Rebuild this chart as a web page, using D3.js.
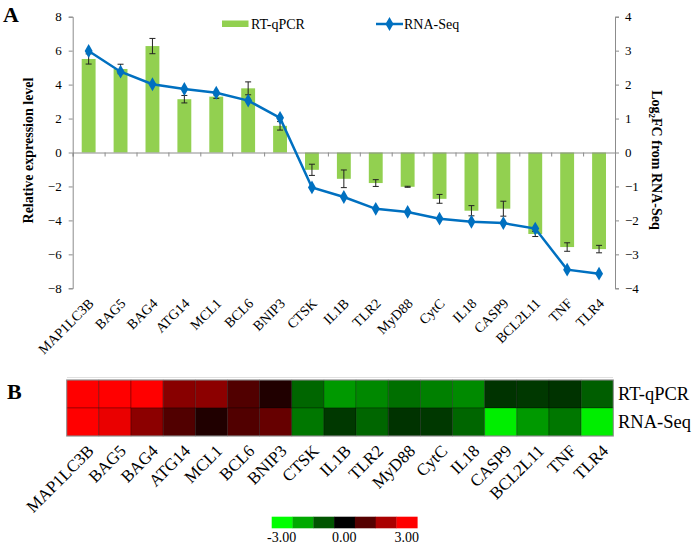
<!DOCTYPE html>
<html><head><meta charset="utf-8">
<script src="https://cdn.jsdelivr.net/npm/d3@7"></script>
<style>body{margin:0;background:#fff}svg{display:block;font-family:"Liberation Serif","Times New Roman",serif}</style>
</head><body>
<svg id="c" width="700" height="547"></svg>
<script>
const genes = ["MAP1LC3B","BAG5","BAG4","ATG14","MCL1","BCL6","BNIP3","CTSK","IL1B","TLR2","MyD88","CytC","IL18","CASP9","BCL2L11","TNF","TLR4"];
const qpcr = [5.51,4.92,6.27,3.14,3.29,3.78,1.57,-1.02,-1.55,-1.80,-2.02,-2.73,-3.43,-3.31,-4.80,-5.57,-5.69];
const qpcrErr = [0.30,0.28,0.45,0.22,0.10,0.38,0.25,0.33,0.52,0.20,0.03,0.26,0.30,0.44,0.15,0.25,0.22];
const rnaseq = [2.99,2.38,2.01,1.87,1.76,1.53,1.02,-1.03,-1.31,-1.66,-1.75,-1.95,-2.04,-2.08,-2.24,-3.45,-3.57];
const heatRows = ["RT-qPCR","RNA-Seq"];
const heatQpcr = [3,3,3,1.6,1.65,0.95,0.38,-1.2,-1.8,-1.6,-1.3,-1.5,-1.62,-0.6,-0.66,-0.6,-1.1];
const heatRnaseq = [3,2.75,1.65,0.95,0.38,0.95,1.2,-1.4,-0.66,-1.2,-0.6,-0.66,-1.2,-2.8,-1.8,-1.4,-2.8];
const leftTicks = [-8,-6,-4,-2,0,2,4,6,8];
const rightTicks = [-4,-3,-2,-1,0,1,2,3,4];
const legendSteps = [-3,-2,-1,0,1,2,3];
const legendLabels = ["-3.00","0.00","3.00"];

const svg = d3.select("#c");
const L = 72.7, R = 615, T = 16.7, B = 288.3;
const x = d3.scaleBand().domain(genes).range([L, R]);
const xi = d3.scaleLinear().domain([0, genes.length]).range([L, R]);
const yL = d3.scaleLinear().domain([-8, 8]).range([B, T]);
const yR = d3.scaleLinear().domain([-4, 4]).range([B, T]);
const axisCol = "#8c8c8c";
const FF = "Liberation Serif";

// bars
const bw = x.bandwidth() * 0.435;
svg.append("g").selectAll("rect").data(genes).join("rect")
  .attr("x", d => x(d) + (x.bandwidth() - bw) / 2)
  .attr("width", bw)
  .attr("y", (d, i) => yL(Math.max(0, qpcr[i])))
  .attr("height", (d, i) => Math.abs(yL(qpcr[i]) - yL(0)))
  .attr("fill", "#92d050");

// error bars
const eg = svg.append("g").attr("stroke", "#222").attr("stroke-width", 1);
genes.forEach((g, i) => {
  const cx = x(g) + x.bandwidth() / 2;
  const y1 = yL(qpcr[i] - qpcrErr[i]), y2 = yL(qpcr[i] + qpcrErr[i]);
  eg.append("line").attr("x1", cx).attr("x2", cx).attr("y1", y1).attr("y2", y2);
  eg.append("line").attr("x1", cx - 3).attr("x2", cx + 3).attr("y1", y1).attr("y2", y1);
  eg.append("line").attr("x1", cx - 3).attr("x2", cx + 3).attr("y1", y2).attr("y2", y2);
});

// left axis
const ga = svg.append("g").attr("transform", `translate(${L},0)`)
  .call(d3.axisLeft(yL).tickValues(leftTicks).tickSize(4).tickPadding(7).tickFormat(d3.format("d")));
ga.selectAll("path,line").attr("stroke", axisCol);
ga.selectAll("text").attr("font-size", 13).attr("fill", "#000").attr("font-family", FF);

// right axis
const gr = svg.append("g").attr("transform", `translate(${R},0)`)
  .call(d3.axisRight(yR).tickValues(rightTicks).tickSize(4).tickPadding(6).tickFormat(d3.format("d")));
gr.selectAll("path,line").attr("stroke", axisCol);
gr.selectAll("text").attr("font-size", 13).attr("fill", "#000").attr("font-family", FF);

// x axis at zero
const gx = svg.append("g").attr("transform", `translate(0,${yL(0)})`)
  .call(d3.axisBottom(xi).tickValues(d3.range(genes.length + 1)).tickSize(4).tickFormat(""));
gx.selectAll("path,line").attr("stroke", axisCol);

// x labels
svg.append("g").selectAll("text").data(genes).join("text")
  .attr("transform", d => `translate(${x(d) + x.bandwidth() / 2 + 6},${B + 16}) rotate(-45)`)
  .attr("text-anchor", "end").attr("font-size", 14).text(d => d);

// line
const line = d3.line().x((d, i) => x(genes[i]) + x.bandwidth() / 2).y(d => yR(d));
svg.append("path").datum(rnaseq).attr("d", line).attr("fill", "none")
  .attr("stroke", "#0070c0").attr("stroke-width", 2.5);
const diamond = d3.symbol().type(d3.symbolDiamond).size(55);
svg.append("g").selectAll("path").data(rnaseq).join("path")
  .attr("d", diamond)
  .attr("transform", (d, i) => `translate(${x(genes[i]) + x.bandwidth() / 2},${yR(d)})`)
  .attr("fill", "#0070c0");

// axis titles
svg.append("text").attr("transform", `translate(33,${(T + B) / 2 - 2}) rotate(-90)`)
  .attr("text-anchor", "middle").attr("font-weight", "bold").attr("font-size", 14)
  .text("Relative expression level");
const rt = svg.append("text").attr("transform", `translate(652,160) rotate(90)`)
  .attr("text-anchor", "middle").attr("font-weight", "bold").attr("font-size", 14);
rt.append("tspan").text("Log");
rt.append("tspan").attr("font-size", 9).attr("dy", 3).text("2");
rt.append("tspan").attr("dy", -3).text("FC from RNA-Seq");

// legend A
svg.append("rect").attr("x", 222).attr("y", 20.5).attr("width", 26.5).attr("height", 6.5).attr("fill", "#92d050");
svg.append("text").attr("x", 251).attr("y", 29).attr("font-size", 14).text("RT-qPCR");
svg.append("line").attr("x1", 376).attr("x2", 403).attr("y1", 24).attr("y2", 24).attr("stroke", "#0070c0").attr("stroke-width", 2.5);
svg.append("path").attr("d", diamond).attr("transform", "translate(389.5,24)").attr("fill", "#0070c0");
svg.append("text").attr("x", 404).attr("y", 29).attr("font-size", 14).text("RNA-Seq");

// panel letters
svg.append("text").attr("x", 3).attr("y", 22).attr("font-size", 22).attr("font-weight", "bold").text("A");
svg.append("text").attr("x", 7).attr("y", 399).attr("font-size", 22).attr("font-weight", "bold").text("B");

// separator
svg.append("line").attr("x1", 67).attr("x2", 613).attr("y1", 377.5).attr("y2", 377.5).attr("stroke", "#e0e0e0");

// heatmap
const xh = d3.scaleBand().domain(genes).range([66.7, 613.3]);
const yh = d3.scaleBand().domain(heatRows).range([380, 436]);
const col = d3.scaleLinear().domain([-3, 0, 3]).range(["#00ff00", "#000000", "#ff0000"]).clamp(true);
const heatData = [];
genes.forEach((g, i) => {
  heatData.push({g, r: heatRows[0], v: heatQpcr[i]});
  heatData.push({g, r: heatRows[1], v: heatRnaseq[i]});
});
svg.append("g").selectAll("rect").data(heatData).join("rect")
  .attr("x", d => xh(d.g)).attr("y", d => yh(d.r))
  .attr("width", xh.bandwidth()).attr("height", yh.bandwidth())
  .attr("fill", d => col(d.v)).attr("stroke", "rgba(0,0,0,0.35)").attr("stroke-width", 0.8);
svg.append("rect").attr("x", 66.7).attr("y", 380).attr("width", 613.3 - 66.7).attr("height", 56)
  .attr("fill", "none").attr("stroke", "#9a9a9a").attr("stroke-width", 1);
svg.append("g").selectAll("text").data(heatRows).join("text")
  .attr("x", 618).attr("y", d => yh(d) + yh.bandwidth() / 2 + 6)
  .attr("font-size", 18.5).text(d => d);
svg.append("g").selectAll("text").data(genes).join("text")
  .attr("transform", d => `translate(${xh(d) + xh.bandwidth() / 2 + 12},${452}) rotate(-45)`)
  .attr("text-anchor", "end").attr("font-size", 17).text(d => d);

// color legend
const lx = d3.scaleBand().domain(legendSteps).range([271.7, 417.3]);
svg.append("g").selectAll("rect").data(legendSteps).join("rect")
  .attr("x", d => lx(d)).attr("y", 516.7).attr("width", lx.bandwidth() + 0.3).attr("height", 11.6)
  .attr("fill", d => col(d));
const lpos = d3.scaleLinear().domain([0, 2]).range([281.7, 406.7]);
svg.append("g").selectAll("text").data(legendLabels).join("text")
  .attr("x", (d, i) => lpos(i)).attr("y", 542).attr("text-anchor", "middle").attr("font-size", 14).text(d => d);
</script>
</body></html>
